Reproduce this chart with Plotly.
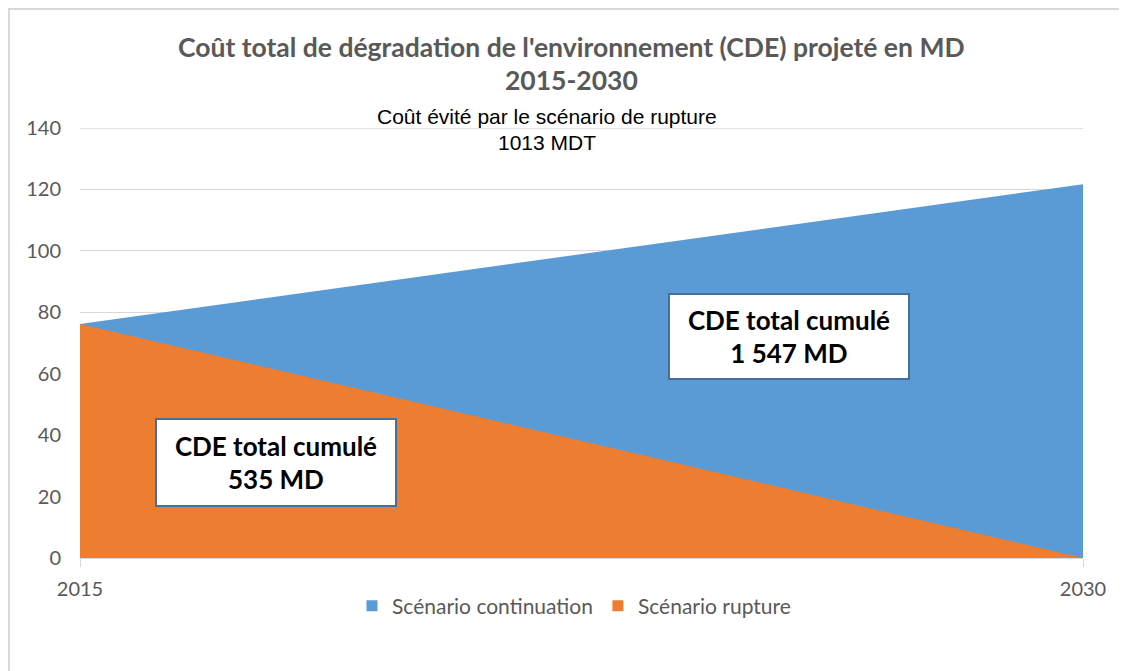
import plotly.graph_objects as go

years = [2015, 2030]
continuation = [76.2, 121.7]
rupture = [76.2, 0]
series_names = ["Scénario continuation", "Scénario rupture"]
colors = ["#5B9BD5", "#ED7D31"]
y_ticks = [0, 20, 40, 60, 80, 100, 120, 140]
title_lines = ["Coût total de dégradation de l'environnement (CDE) projeté en MD", "2015-2030"]
subtitle_lines = ["Coût évité par le scénario de rupture", "1013 MDT"]
box_texts = ["CDE total cumulé<br>535 MD", "CDE total cumulé<br>1 547 MD"]

OFF = 8  # page body margin
W, H = 1127 - OFF, 671 - OFF
# plot area in reference pixels: x 80..1083, y 128..558
L = 80 - OFF
T = 128 - OFF
R = (W + OFF) - 1083
B = (H + OFF) - 558

fig = go.Figure()
for name, vals, col in zip(series_names, [continuation, rupture], colors):
    fig.add_trace(go.Scatter(
        x=years, y=vals, name=name, mode="lines", fill="tozeroy",
        line=dict(color=col, width=0), fillcolor=col, showlegend=False,
    ))
# legend entries as square markers
for name, col in zip(series_names, colors):
    fig.add_trace(go.Scatter(
        x=[None], y=[None], name=name, mode="markers",
        marker=dict(symbol="square", size=11, color=col), showlegend=True,
    ))

pw = W - L - R
ph = H - T - B
def px(xr):
    return ((xr - OFF) - L) / pw
def py(yr):
    return (H - B - (yr - OFF)) / ph

shapes = [
    dict(type="line", xref="paper", yref="paper", x0=px(8), x1=px(1140), y0=py(9), y1=py(9),
         line=dict(color="#D9D9D9", width=2)),
    dict(type="line", xref="paper", yref="paper", x0=px(9), x1=px(9), y0=py(8), y1=py(690),
         line=dict(color="#D9D9D9", width=2)),
    # top gridline (at the edge of the range)
    dict(type="line", xref="paper", yref="y", x0=0, x1=1, y0=y_ticks[-1], y1=y_ticks[-1],
         line=dict(color="#D9D9D9", width=1.5), layer="below"),
]

title_font = dict(family="Lato, Open Sans, sans-serif", size=26.5, color="#595959")
sub_font = dict(family="Liberation Sans, Arial, sans-serif", size=21, color="#000000")
box_font = dict(family="Lato, Open Sans, sans-serif", size=26, color="#000000")

annotations = [
    dict(text="<b>" + title_lines[0] + "</b>", xref="paper", yref="paper", x=px(571), y=py(47),
         showarrow=False, font=title_font, xanchor="center", yanchor="middle"),
    dict(text="<b>" + title_lines[1] + "</b>", xref="paper", yref="paper", x=px(571), y=py(80),
         showarrow=False, font=title_font, xanchor="center", yanchor="middle"),
    dict(text=subtitle_lines[0], xref="paper", yref="paper", x=px(547), y=py(116),
         showarrow=False, font=sub_font, xanchor="center", yanchor="middle"),
    dict(text=subtitle_lines[1], xref="paper", yref="paper", x=px(547), y=py(143),
         showarrow=False, font=sub_font, xanchor="center", yanchor="middle"),
    dict(text="<b>" + box_texts[0] + "</b>", xref="paper", yref="paper", x=px(276), y=py(462.5),
         showarrow=False, font=box_font, xanchor="center", yanchor="middle", align="center",
         bgcolor="#FFFFFF", bordercolor="#41719C", borderwidth=2, borderpad=1,
         width=236, height=83),
    dict(text="<b>" + box_texts[1] + "</b>", xref="paper", yref="paper", x=px(789), y=py(336.5),
         showarrow=False, font=box_font, xanchor="center", yanchor="middle", align="center",
         bgcolor="#FFFFFF", bordercolor="#41719C", borderwidth=2, borderpad=1,
         width=236, height=81),
]

tick_font = dict(family="Lato, Open Sans, sans-serif", size=20, color="#595959")

fig.update_layout(
    width=W, height=H,
    margin=dict(l=L, r=R, t=T, b=B, autoexpand=False),
    paper_bgcolor="#FFFFFF", plot_bgcolor="#FFFFFF",
    showlegend=True,
    legend=dict(orientation="h", x=px(574), y=py(606), xanchor="center", yanchor="middle",
                font=dict(family="Lato, Open Sans, sans-serif", size=21, color="#595959"),
                itemwidth=30, traceorder="normal", bgcolor="rgba(0,0,0,0)"),
    shapes=shapes,
    annotations=annotations,
    xaxis=dict(range=[2015, 2030], tickvals=years, ticktext=[str(y) for y in years],
               showgrid=False, zeroline=False, showline=True, linecolor="#D9D9D9", linewidth=1,
               ticks="outside", ticklen=8, tickcolor="#D9D9D9", ticklabelstandoff=5,
               tickfont=tick_font),
    yaxis=dict(range=[0, 140], tickvals=y_ticks, showgrid=True, gridcolor="#D9D9D9", gridwidth=1,
               zeroline=False, showline=False, ticks="", ticklabelstandoff=18,
               tickfont=tick_font),
)

fig.write_html("out.html")
